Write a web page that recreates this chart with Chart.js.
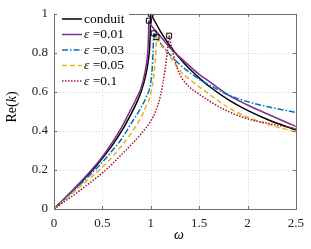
<!DOCTYPE html>
<html>
<head>
<meta charset="utf-8">
<script src="https://cdn.jsdelivr.net/npm/chart.js@4/dist/chart.umd.min.js"></script>
<style>
  html, body { margin: 0; padding: 0; background: #fff; }
  #wrap { width: 311px; height: 249px; position: relative; }
</style>
</head>
<body>
<div id="wrap"><canvas id="chart"></canvas></div>
<script>
// tick labels
const xTicks = [0, 0.5, 1, 1.5, 2, 2.5]
const yTicks = [0, 0.2, 0.4, 0.6, 0.8, 1]

// legend names
const names = ['conduit', '0.01', '0.03', '0.05', '0.1']

// values (omega, Re(k))
const omegaConduit = [0, 0.1, 0.2, 0.3, 0.4, 0.5, 0.6, 0.7, 0.8, 0.85, 0.9, 0.95, 0.98, 0.99, 1.0, 1.1, 1.2, 1.3, 1.4, 1.5, 1.6, 1.8, 2.0, 2.2, 2.5]
const reConduit    = [0, 0.048, 0.097, 0.148, 0.2, 0.26, 0.325, 0.4, 0.49, 0.54, 0.6, 0.69, 0.78, 0.84, 1.0, 0.91, 0.835, 0.772, 0.718, 0.672, 0.63, 0.56, 0.505, 0.46, 0.405]

const omegaEps1 = [0, 0.1, 0.2, 0.3, 0.4, 0.5, 0.6, 0.7, 0.8, 0.85, 0.9, 0.94, 0.96, 0.975, 0.98, 1.0, 1.1, 1.2, 1.3, 1.4, 1.5, 1.6, 1.8, 2.0, 2.2, 2.5]
const reEps1    = [0, 0.05, 0.1, 0.152, 0.207, 0.268, 0.34, 0.42, 0.515, 0.565, 0.62, 0.7, 0.76, 0.86, 0.965, 0.945, 0.885, 0.825, 0.778, 0.733, 0.69, 0.655, 0.585, 0.533, 0.488, 0.423]

const omegaEps3 = [0, 0.1, 0.2, 0.3, 0.4, 0.5, 0.6, 0.7, 0.8, 0.9, 0.95, 1.0, 1.02, 1.03, 1.1, 1.2, 1.3, 1.4, 1.5, 1.6, 1.8, 2.0, 2.2, 2.5]
const reEps3    = [0, 0.046, 0.093, 0.14, 0.188, 0.24, 0.298, 0.36, 0.44, 0.52, 0.57, 0.65, 0.76, 0.9, 0.85, 0.79, 0.74, 0.7, 0.665, 0.637, 0.585, 0.55, 0.525, 0.495]

const omegaEps5 = [0, 0.1, 0.2, 0.3, 0.4, 0.5, 0.6, 0.7, 0.8, 0.9, 0.95, 1.0, 1.03, 1.05, 1.06, 1.1, 1.2, 1.3, 1.4, 1.5, 1.6, 1.8, 2.0, 2.2, 2.5]
const reEps5    = [0, 0.042, 0.085, 0.128, 0.17, 0.215, 0.265, 0.325, 0.39, 0.47, 0.525, 0.59, 0.68, 0.78, 0.88, 0.845, 0.78, 0.71, 0.665, 0.626, 0.59, 0.52, 0.47, 0.435, 0.395]

const omegaEps10 = [0, 0.1, 0.2, 0.3, 0.4, 0.5, 0.6, 0.7, 0.8, 0.9, 1.0, 1.05, 1.1, 1.15, 1.17, 1.19, 1.22, 1.25, 1.3, 1.4, 1.5, 1.6, 1.8, 2.0, 2.2, 2.5]
const reEps10    = [0, 0.035, 0.07, 0.107, 0.145, 0.185, 0.23, 0.28, 0.33, 0.385, 0.45, 0.5, 0.58, 0.72, 0.8, 0.888, 0.82, 0.76, 0.69, 0.625, 0.588, 0.555, 0.5, 0.462, 0.44, 0.412]

const series = [
  { omega: omegaConduit, re: reConduit, color: '#000000', dash: [] },
  { omega: omegaEps1, re: reEps1, color: '#7E2F8E', dash: [] },
  { omega: omegaEps3, re: reEps3, color: '#0072BD', dash: [6, 2, 1.5, 2] },
  { omega: omegaEps5, re: reEps5, color: '#EDB120', dash: [5, 3] },
  { omega: omegaEps10, re: reEps10, color: '#A2142F', dash: [1.5, 1.5] }
]

const font = '"Liberation Serif", "DejaVu Serif", serif'

// split each curve at its peak so the cusp stays sharp
const datasets = []
const peaks = []
series.forEach((s, i) => {
  const pts = s.omega.map((w, j) => ({ x: w, y: s.re[j] }))
  let k = 0
  s.re.forEach((v, j) => { if (v > s.re[k]) k = j })
  peaks.push(pts[k])
  const style = {
    borderColor: s.color,
    borderWidth: 1.5,
    borderDash: s.dash,
    pointRadius: 0,
    fill: false,
    cubicInterpolationMode: 'monotone',
    order: 10 - i
  }
  datasets.push({ ...style, data: pts.slice(0, k + 1) })
  datasets.push({ ...style, data: pts.slice(k) })
})
datasets.push({
  data: peaks,
  showLine: false,
  pointStyle: 'rect',
  pointRadius: 3.5,
  pointBorderColor: '#000',
  pointBackgroundColor: 'rgba(0,0,0,0)',
  pointBorderWidth: 1,
  order: 0
})

const frame = {
  id: 'frame',
  beforeDatasetsDraw(chart) {
    const { ctx, chartArea: a, scales: { x, y } } = chart
    ctx.save()
    ctx.strokeStyle = '#d4d4d4'
    ctx.lineWidth = 1
    ctx.setLineDash([1, 2])
    xTicks.slice(1, -1).forEach(t => {
      const px = Math.round(x.getPixelForValue(t)) + 0.5
      ctx.beginPath(); ctx.moveTo(px, a.top); ctx.lineTo(px, a.bottom); ctx.stroke()
    })
    yTicks.slice(1, -1).forEach(t => {
      const py = Math.round(y.getPixelForValue(t)) + 0.5
      ctx.beginPath(); ctx.moveTo(a.left, py); ctx.lineTo(a.right, py); ctx.stroke()
    })
    ctx.restore()
  },
  afterDatasetsDraw(chart) {
    const { ctx, chartArea: a, scales: { x, y } } = chart
    ctx.save()
    ctx.strokeStyle = '#6e6e6e'
    ctx.lineWidth = 1
    ctx.strokeRect(Math.round(a.left) + 0.5, Math.round(a.top) + 0.5, Math.round(a.right - a.left), Math.round(a.bottom - a.top))
    const len = 3
    ctx.beginPath()
    xTicks.forEach(t => {
      const px = Math.round(x.getPixelForValue(t)) + 0.5
      ctx.moveTo(px, a.bottom); ctx.lineTo(px, a.bottom - len)
      ctx.moveTo(px, a.top); ctx.lineTo(px, a.top + len)
    })
    yTicks.forEach(t => {
      const py = Math.round(y.getPixelForValue(t)) + 0.5
      ctx.moveTo(a.left, py); ctx.lineTo(a.left + len, py)
      ctx.moveTo(a.right, py); ctx.lineTo(a.right - len, py)
    })
    ctx.stroke()

    // legend
    ctx.fillStyle = '#fff'
    ctx.fillRect(57, 9, 72, 80)
    names.forEach((n, i) => {
      const yy = 19 + i * 15.5
      ctx.strokeStyle = series[i].color
      ctx.lineWidth = 1.5
      ctx.setLineDash(series[i].dash)
      ctx.beginPath(); ctx.moveTo(62, yy); ctx.lineTo(82, yy); ctx.stroke()
      ctx.setLineDash([])
      ctx.fillStyle = '#000'
      ctx.textBaseline = 'middle'
      ctx.textAlign = 'left'
      if (i === 0) {
        ctx.font = '13.5px ' + font
        ctx.fillText(n, 84, yy)
      } else {
        ctx.font = 'italic 13.5px ' + font
        ctx.fillText('\u03b5', 84, yy)
        const w = ctx.measureText('\u03b5 ').width
        ctx.font = '13.5px ' + font
        ctx.fillText('=' + n, 84 + w, yy)
      }
    })
    ctx.restore()
  },
  afterDraw(chart) {
    const { ctx } = chart
    ctx.save()
    ctx.fillStyle = '#000'
    ctx.textBaseline = 'alphabetic'
    // x title
    ctx.font = 'italic 14px ' + font
    ctx.textAlign = 'center'
    ctx.fillText('\u03c9', 179, 239)
    // y title
    ctx.translate(16, 107)
    ctx.rotate(-Math.PI / 2)
    const parts = [['Re(', ''], ['k', 'italic '], [')', '']]
    let total = 0
    parts.forEach(p => { ctx.font = p[1] + '14px ' + font; total += ctx.measureText(p[0]).width })
    let cx = -total / 2
    ctx.textAlign = 'left'
    parts.forEach(p => {
      ctx.font = p[1] + '14px ' + font
      ctx.fillText(p[0], cx, 0)
      cx += ctx.measureText(p[0]).width
    })
    ctx.restore()
  }
}

new Chart(document.getElementById('chart'), {
  type: 'line',
  data: { datasets: datasets },
  options: {
    responsive: true,
    maintainAspectRatio: false,
    animation: false,
    layout: { padding: { top: 5, right: 11, left: 0, bottom: 0 } },
    plugins: { legend: { display: false }, tooltip: { enabled: false } },
    scales: {
      x: {
        type: 'linear',
        min: 0,
        max: 2.5,
        afterBuildTicks: s => { s.ticks = xTicks.map(v => ({ value: v })) },
        afterFit: s => { s.height = 40 },
        grid: { display: false, drawTicks: false },
        border: { display: false },
        ticks: { color: '#222', font: { family: font, size: 13 }, padding: 7, maxRotation: 0, callback: v => String(v) }
      },
      y: {
        type: 'linear',
        min: 0,
        max: 1,
        afterBuildTicks: s => { s.ticks = yTicks.map(v => ({ value: v })) },
        afterFit: s => { s.width = 54 },
        grid: { display: false, drawTicks: false },
        border: { display: false },
        ticks: { color: '#222', font: { family: font, size: 13 }, padding: 6, callback: v => String(v) }
      }
    }
  },
  plugins: [frame]
})
</script>
</body>
</html>
